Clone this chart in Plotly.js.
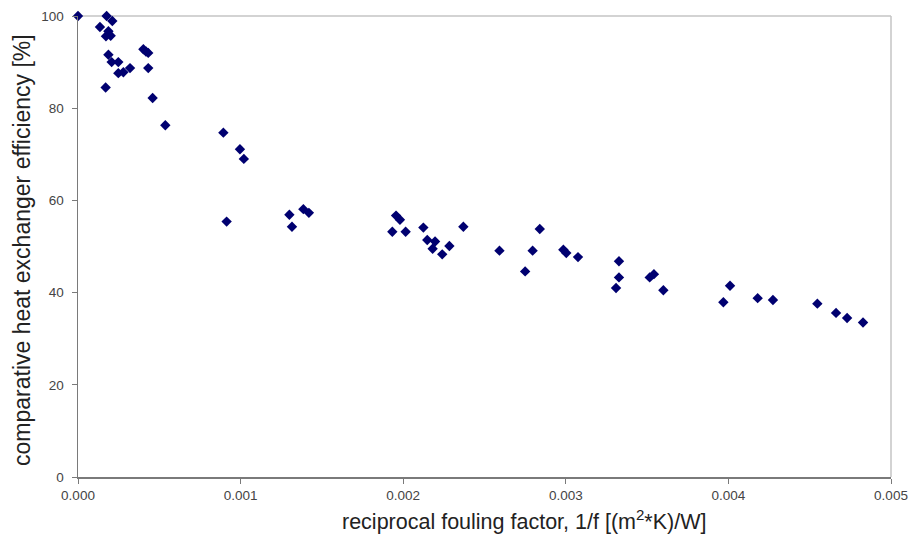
<!DOCTYPE html>
<html>
<head>
<meta charset="utf-8">
<script src="https://cdn.plot.ly/plotly-3.0.1.min.js"></script>
<style>html,body{margin:0;padding:0;background:#fff;}#chart{width:912px;height:545px;}</style>
</head>
<body>
<div id="chart"></div>
<script>
// reciprocal fouling factor 1/f [(m2*K)/W]
const foulingX = [
  0.0, 0.000176, 0.000211, 0.000135, 0.000187, 0.000172, 0.000201, 0.000187, 0.000207, 0.000248,
  0.000248, 0.000279, 0.00032, 0.00017, 0.000402, 0.000418, 0.000432, 0.000432, 0.000459, 0.000537,
  0.000894, 0.000996, 0.00102, 0.000914, 0.0013, 0.001316, 0.001386, 0.00142,
  0.001956, 0.00198, 0.001933, 0.002015, 0.002124, 0.002148, 0.002196, 0.002181, 0.00224, 0.002284, 0.00237,
  0.002592, 0.00275, 0.002796, 0.00284, 0.002985, 0.003003, 0.003075,
  0.003327, 0.003327, 0.003309, 0.003516, 0.003542, 0.0036,
  0.003969, 0.00401, 0.00418, 0.004274, 0.004547, 0.004662, 0.00473, 0.004828
];
// comparative heat exchanger efficiency [%]
const efficiencyY = [
  100.0, 100.0, 98.9, 97.6, 96.7, 95.6, 95.7, 91.6, 90.0, 90.0,
  87.6, 87.8, 88.7, 84.5, 92.8, 92.3, 92.0, 88.7, 82.2, 76.3,
  74.7, 71.1, 69.0, 55.4, 56.9, 54.3, 58.1, 57.3,
  56.7, 55.8, 53.2, 53.2, 54.1, 51.4, 51.1, 49.5, 48.3, 50.1, 54.3,
  49.1, 44.6, 49.1, 53.8, 49.3, 48.6, 47.7,
  46.8, 43.3, 41.0, 43.3, 44.0, 40.5,
  37.9, 41.5, 38.8, 38.4, 37.6, 35.6, 34.5, 33.5
];
const xTickVals = [0, 0.001, 0.002, 0.003, 0.004, 0.005];
const xTickText = ["0.000", "0.001", "0.002", "0.003", "0.004", "0.005"];
const yTickVals = [0, 20, 40, 60, 80, 100];
const xTitle = 'reciprocal fouling factor, 1/f [(m<sup>2</sup>*K)/W]';
const yTitle = 'comparative heat exchanger efficiency [%]';

const trace = {
  type: 'scatter', mode: 'markers',
  x: foulingX, y: efficiencyY,
  cliponaxis: false,
  marker: {symbol: 'diamond', size: 8, color: '#000070', line: {width: 0}},
  hoverinfo: 'x+y'
};
const layout = {
  width: 912, height: 545,
  margin: {l: 78, r: 21, t: 16, b: 68},
  paper_bgcolor: '#fff', plot_bgcolor: '#fff',
  showlegend: false,
  font: {family: 'Liberation Sans, Arial, sans-serif', color: '#222'},
  xaxis: {
    range: [0, 0.005], tickvals: xTickVals, ticktext: xTickText,
    showgrid: false, zeroline: false,
    showline: true, linecolor: '#7a7a7a', linewidth: 1.5,
    ticks: 'outside', ticklen: 5, tickcolor: '#7a7a7a', tickwidth: 1,
    tickfont: {size: 13.5, color: '#444'}
  },
  yaxis: {
    range: [0, 100], tickvals: yTickVals,
    showgrid: false, zeroline: false,
    showline: true, linecolor: '#7a7a7a', linewidth: 1.5,
    ticks: 'outside', ticklen: 5, tickcolor: '#7a7a7a', tickwidth: 1,
    ticklabelstandoff: 5,
    tickfont: {size: 13.5, color: '#444'}
  },
  annotations: [
    {text: xTitle, xref: 'paper', yref: 'paper', x: 0.5486, y: -0.0933, xanchor: 'center', yanchor: 'middle',
     showarrow: false, font: {size: 21.5, color: '#222'}},
    {text: yTitle, xref: 'paper', yref: 'paper', x: -0.0689, y: 0.4924, xanchor: 'center', yanchor: 'middle',
     textangle: -90, showarrow: false, font: {size: 23, color: '#222'}}
  ],
  shapes: [
    {type: 'line', xref: 'paper', yref: 'paper', x0: 0, x1: 1, y0: 1, y1: 1, line: {color: '#c4c4c4', width: 1.5}, layer: 'below'},
    {type: 'line', xref: 'paper', yref: 'paper', x0: 1, x1: 1, y0: 0, y1: 1, line: {color: '#c4c4c4', width: 1.5}, layer: 'below'}
  ]
};
Plotly.newPlot('chart', [trace], layout, {displayModeBar: false, staticPlot: true});
</script>
</body>
</html>
